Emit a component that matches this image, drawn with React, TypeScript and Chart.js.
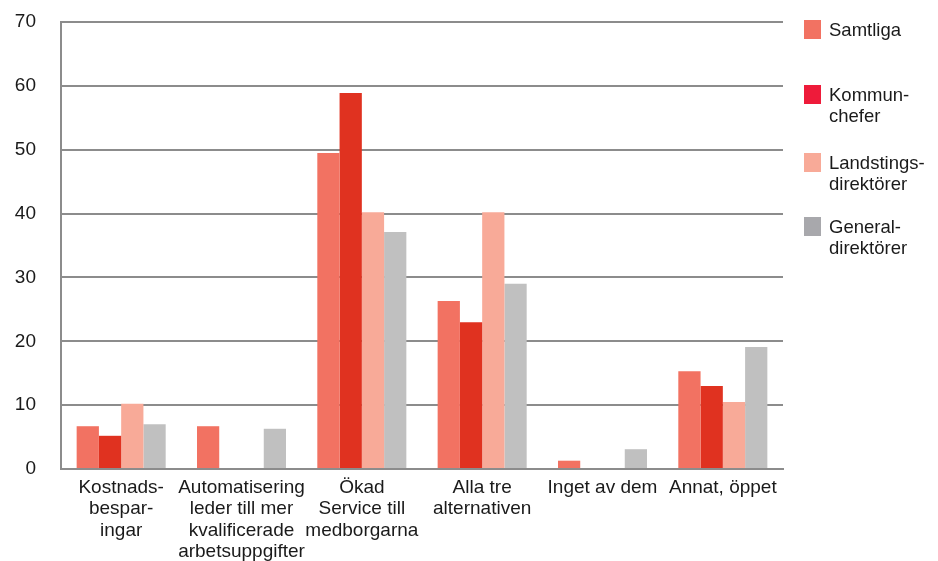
import React, { useEffect, useRef } from "react";
import { Chart, registerables } from "chart.js";

Chart.register(...registerables);

const categories: string[][] = [
  ["Kostnads-", "bespar-", "ingar"],
  ["Automatisering", "leder till mer", "kvalificerade", "arbetsuppgifter"],
  ["Ökad", "Service till", "medborgarna"],
  ["Alla tre", "alternativen"],
  ["Inget av dem"],
  ["Annat, öppet"],
];

const samtliga = [6.7, 6.7, 49.5, 26.3, 1.3, 15.3];
const kommunchefer = [5.2, 0, 58.9, 23.0, 0, 13.0];
const landstingsdirektorer = [10.2, 0, 40.2, 40.2, 0, 10.5];
const generaldirektorer = [7.0, 6.3, 37.1, 29.0, 3.1, 19.1];

const yTicks = [0, 10, 20, 30, 40, 50, 60, 70];

const seriesNames = ["Samtliga", "Kommunchefer", "Landstingsdirektörer", "Generaldirektörer"];
const barColors = ["#f27262", "#e03220", "#f8aa98", "#c0c0c0"];
const legendColors = ["#f27262", "#ee1b3a", "#f8aa98", "#a8a8ac"];
const legendLines: string[][] = [
  ["Samtliga"],
  ["Kommun-", "chefer"],
  ["Landstings-", "direktörer"],
  ["General-", "direktörer"],
];
const legendTops = [20, 85, 153, 217];

const FONT = "'Liberation Sans', Arial, Helvetica, sans-serif";

export default function App() {
  const canvasRef = useRef<HTMLCanvasElement | null>(null);

  useEffect(() => {
    if (!canvasRef.current) return;
    const values = [samtliga, kommunchefer, landstingsdirektorer, generaldirektorer];
    const chart = new Chart(canvasRef.current, {
      type: "bar",
      data: {
        labels: categories,
        datasets: values.map((d, i) => ({
          label: seriesNames[i],
          data: d,
          backgroundColor: barColors[i],
          borderWidth: 0,
          categoryPercentage: 0.74,
          barPercentage: 1.0,
        })),
      },
      options: {
        animation: false,
        responsive: false,
        maintainAspectRatio: false,
        layout: { padding: { left: 0, right: 155, top: 22, bottom: 0 } },
        plugins: {
          legend: { display: false },
          tooltip: { enabled: false },
        },
        scales: {
          x: {
            grid: { display: false, drawTicks: false },
            border: { display: true, color: "#8c8c8c", width: 2 },
            ticks: {
              color: "#1a1a1a",
              font: { family: FONT, size: 19, lineHeight: 1.13 },
              padding: 8,
              maxRotation: 0,
              autoSkip: false,
            },
            afterFit: (axis: any) => {
              axis.height = 92;
              axis.paddingLeft = 0;
              axis.paddingRight = 0;
            },
          },
          y: {
            min: 0,
            max: 70,
            afterBuildTicks: (axis: any) => {
              axis.ticks = yTicks.map((v) => ({ value: v }));
            },
            afterFit: (axis: any) => {
              axis.width = 61;
              axis.paddingTop = 0;
              axis.paddingBottom = 0;
            },
            grid: { color: "#8c8c8c", lineWidth: 2, drawTicks: false },
            border: { display: true, color: "#8c8c8c", width: 2 },
            ticks: {
              color: "#1a1a1a",
              font: { family: FONT, size: 19 },
              padding: 25,
            },
          },
        },
      },
    });
    return () => chart.destroy();
  }, []);

  return (
    <div
      style={{
        position: "fixed",
        left: 0,
        top: 0,
        width: 938,
        height: 561,
        background: "#ffffff",
        fontFamily: FONT,
      }}
    >
      <canvas ref={canvasRef} width={938} height={561} style={{ display: "block" }} />
      {legendLines.map((lines, i) => (
        <div key={i} style={{ position: "absolute", left: 804, top: legendTops[i] }}>
          <div
            style={{
              position: "absolute",
              left: 0,
              top: 0,
              width: 17,
              height: 19,
              background: legendColors[i],
            }}
          />
          <div
            style={{
              position: "absolute",
              left: 25,
              top: 0,
              fontSize: 18.5,
              lineHeight: "20.5px",
              color: "#1a1a1a",
              whiteSpace: "nowrap",
            }}
          >
            {lines.map((l, j) => (
              <div key={j}>{l}</div>
            ))}
          </div>
        </div>
      ))}
    </div>
  );
}
